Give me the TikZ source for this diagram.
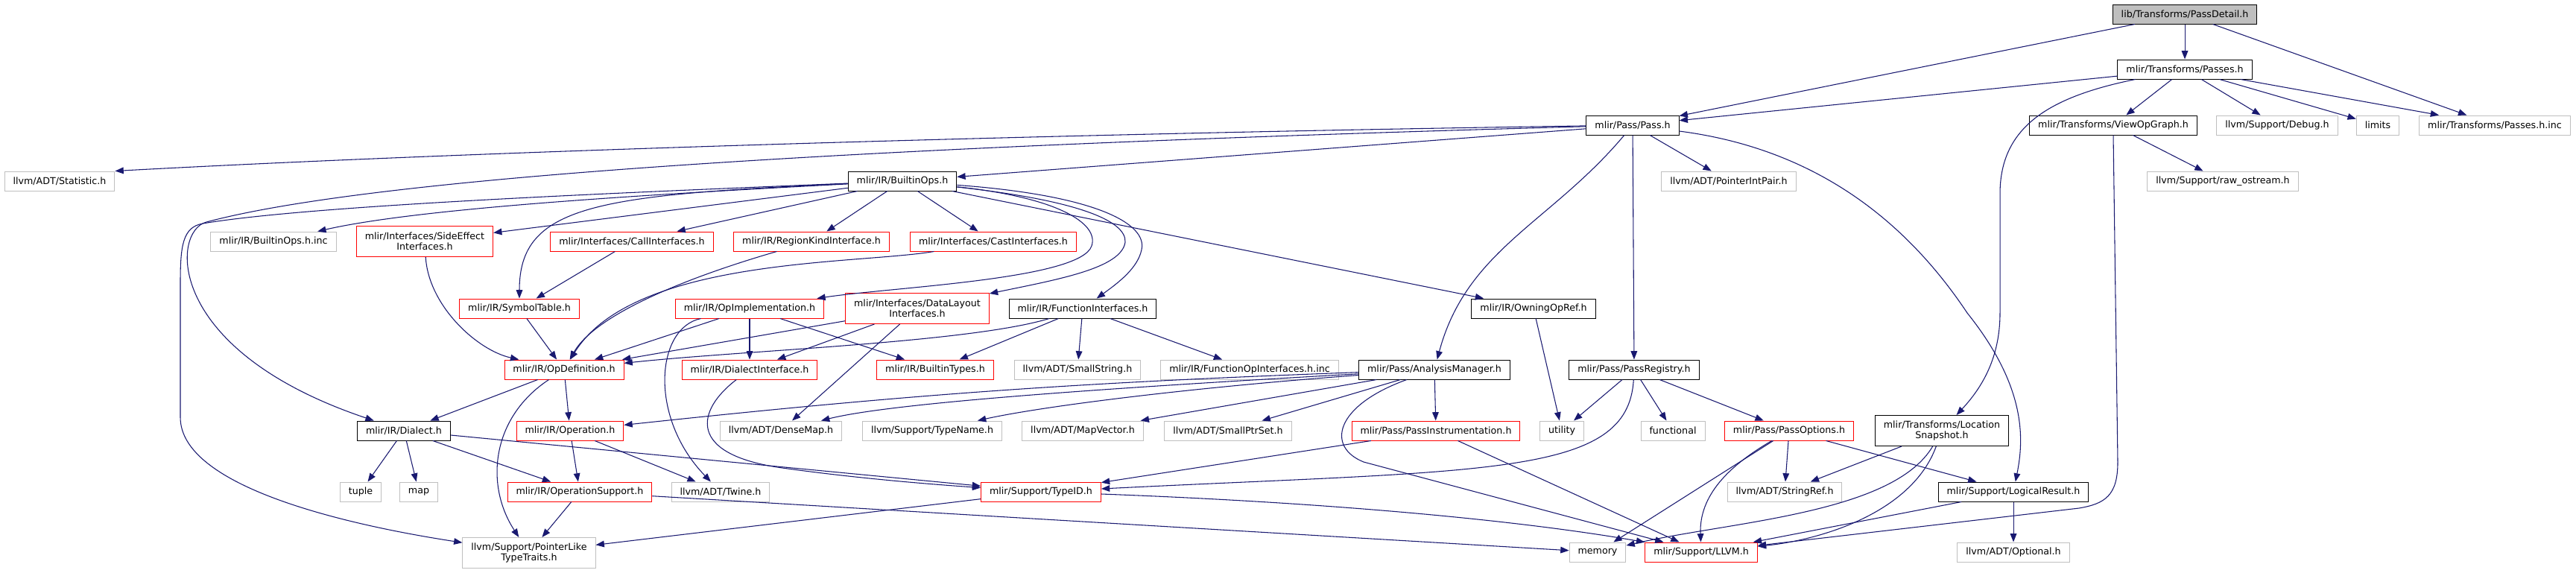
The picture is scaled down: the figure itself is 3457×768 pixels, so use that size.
\documentclass[tikz,border=0pt]{standalone}
\usepackage{fontspec}
\setmainfont{DejaVu Sans}
\usepackage{tikz}
\usetikzlibrary{arrows.meta}
\usepackage{xcolor}
\definecolor{edgeblue}{HTML}{191970}
\definecolor{grey75}{HTML}{BFBFBF}

\begin{document}
\begin{tikzpicture}[x=0.75pt, y=-0.75pt,
  hdr/.style={draw, fill=white, line width=0.75pt, inner xsep=8.6pt, inner ysep=1pt, minimum height=19.5pt, align=center, font=\fontsize{9.5}{10.5}\selectfont},
  doc/.style={hdr, draw=black},
  undoc/.style={hdr, draw=grey75},
  trunc/.style={hdr, draw=red},
  rootfile/.style={hdr, draw=black, fill=grey75},
  tall/.style={minimum height=30.75pt},
  incl/.style={draw=edgeblue, line width=0.8pt, -{Triangle[length=8.5pt, width=6.5pt]}}]

\useasboundingbox (0,0) rectangle (3457,768);

\node[rootfile] (PassDetail) at (2932,19) {lib/Transforms/PassDetail.h};
\node[doc] (Passes) at (2932,93) {mlir/Transforms/Passes.h};

\node[doc] (Pass) at (2191,168) {mlir/Pass/Pass.h};
\node[doc] (ViewOpGraph) at (2836,168) {mlir/Transforms/ViewOpGraph.h};
\node[undoc] (Debug) at (3056,168) {llvm/Support/Debug.h};
\node[undoc] (limits) at (3191,168) {limits};
\node[undoc] (PassesInc) at (3348,168) {mlir/Transforms/Passes.h.inc};

\node[undoc] (Statistic) at (80,243) {llvm/ADT/Statistic.h};
\node[doc] (BuiltinOps) at (1211,243) {mlir/IR/BuiltinOps.h};
\node[undoc] (PointerIntPair) at (2320,243) {llvm/ADT/PointerIntPair.h};
\node[undoc] (rawOstream) at (2983,243) {llvm/Support/raw\_ostream.h};

\node[undoc] (BuiltinOpsInc) at (367,324) {mlir/IR/BuiltinOps.h.inc};
\node[trunc, tall] (SideEffect) at (570,324) {mlir/Interfaces/SideEffect\\Interfaces.h};
\node[trunc] (CallIf) at (848,324) {mlir/Interfaces/CallInterfaces.h};
\node[trunc] (RegionKind) at (1089,324) {mlir/IR/RegionKindInterface.h};
\node[trunc] (CastIf) at (1333,324) {mlir/Interfaces/CastInterfaces.h};

\node[trunc] (SymbolTable) at (697,414) {mlir/IR/SymbolTable.h};
\node[trunc] (OpImpl) at (1006,414) {mlir/IR/OpImplementation.h};
\node[trunc, tall] (DataLayout) at (1231,414) {mlir/Interfaces/DataLayout\\Interfaces.h};
\node[doc] (FuncIf) at (1453,414) {mlir/IR/FunctionInterfaces.h};
\node[doc] (OwningOpRef) at (2058,414) {mlir/IR/OwningOpRef.h};

\node[trunc] (OpDef) at (757,496) {mlir/IR/OpDefinition.h};
\node[trunc] (DialectIf) at (1006,496) {mlir/IR/DialectInterface.h};
\node[trunc] (BuiltinTypes) at (1255,496) {mlir/IR/BuiltinTypes.h};
\node[undoc] (SmallString) at (1446,496) {llvm/ADT/SmallString.h};
\node[undoc] (FuncOpIfInc) at (1677,496) {mlir/IR/FunctionOpInterfaces.h.inc};
\node[doc] (AnalysisMgr) at (1925,496) {mlir/Pass/AnalysisManager.h};
\node[doc] (PassRegistry) at (2193,496) {mlir/Pass/PassRegistry.h};

\node[doc] (Dialect) at (542,578) {mlir/IR/Dialect.h};
\node[trunc] (Operation) at (765,578) {mlir/IR/Operation.h};
\node[undoc] (DenseMap) at (1048,578) {llvm/ADT/DenseMap.h};
\node[undoc] (TypeName) at (1251,578) {llvm/Support/TypeName.h};
\node[undoc] (MapVector) at (1453,578) {llvm/ADT/MapVector.h};
\node[undoc] (SmallPtrSet) at (1648,578) {llvm/ADT/SmallPtrSet.h};
\node[trunc] (PassInstr) at (1927,578) {mlir/Pass/PassInstrumentation.h};
\node[undoc] (utility) at (2096,578) {utility};
\node[undoc] (functional) at (2245,578) {functional};
\node[trunc] (PassOptions) at (2401,578) {mlir/Pass/PassOptions.h};
\node[doc, tall] (LocSnapshot) at (2606,578) {mlir/Transforms/Location\\Snapshot.h};

\node[undoc] (tuple) at (484,660) {tuple};
\node[undoc] (map) at (562,660) {map};
\node[trunc] (OpSupport) at (778,660) {mlir/IR/OperationSupport.h};
\node[undoc] (Twine) at (967,660) {llvm/ADT/Twine.h};
\node[trunc] (TypeID) at (1397,660) {mlir/Support/TypeID.h};
\node[undoc] (StringRef) at (2395,660) {llvm/ADT/StringRef.h};
\node[doc] (LogicalResult) at (2702,660) {mlir/Support/LogicalResult.h};

\node[undoc, tall] (PointerLike) at (710,742) {llvm/Support/PointerLike\\TypeTraits.h};
\node[undoc] (memory) at (2144,741) {memory};
\node[trunc] (LLVM) at (2283,741) {mlir/Support/LLVM.h};
\node[undoc] (Optional) at (2702,741) {llvm/ADT/Optional.h};

\draw[incl] (PassDetail) -- (Pass);
\draw[incl] (PassDetail) -- (Passes);
\draw[incl] (PassDetail) -- (PassesInc);

\draw[incl] (Passes) -- (Pass);
\draw[incl] (Passes) -- (ViewOpGraph);
\draw[incl] (Passes) -- (Debug);
\draw[incl] (Passes) -- (limits);
\draw[incl] (Passes) -- (PassesInc);
\draw[incl] (Passes) .. controls (2750,130) and (2684,170) .. (2684,260) -- (2684,420) .. controls (2684,480) and (2660,520) .. (LocSnapshot);

\draw[incl] (ViewOpGraph) -- (rawOstream);
\draw[incl] (ViewOpGraph.south) -- (2842,620) .. controls (2842,665) and (2825,676) .. (2790,682) -- (LLVM);

\draw[incl] (Pass) .. controls (1500,178) and (700,200) .. (Statistic.north east);
\draw[incl] (Pass) -- (BuiltinOps);
\draw[incl] (Pass) .. controls (1400,190) and (550,225) .. (277,298) .. controls (230,310) and (220,470) .. (Dialect);
\draw[incl] (Pass) -- (PointerIntPair);
\draw[incl] (Pass) to[out=-130, in=75] (AnalysisMgr);
\draw[incl] (Pass) -- (PassRegistry);
\draw[incl] (Pass) .. controls (2440,200) and (2560,300) .. (2640,420) .. controls (2720,520) and (2716,590) .. (LogicalResult);

\draw[incl] (BuiltinOps) .. controls (850,258) and (420,275) .. (272,300) .. controls (245,305) and (242,330) .. (242,380) -- (242,560) .. controls (242,650) and (450,702) .. (PointerLike);
\draw[incl] (BuiltinOps) .. controls (850,262) and (560,280) .. (BuiltinOpsInc);
\draw[incl] (BuiltinOps) -- (SideEffect);
\draw[incl] (BuiltinOps) .. controls (800,262) and (697,275) .. (SymbolTable);
\draw[incl] (BuiltinOps) -- (CallIf);
\draw[incl] (BuiltinOps) -- (RegionKind);
\draw[incl] (BuiltinOps) -- (CastIf);
\draw[incl] (BuiltinOps) .. controls (1420,265) and (1475,300) .. (1465,330) .. controls (1450,375) and (1200,385) .. (OpImpl);
\draw[incl] (BuiltinOps) .. controls (1440,268) and (1512,295) .. (1510,325) .. controls (1505,360) and (1420,375) .. (DataLayout);
\draw[incl] (BuiltinOps) .. controls (1470,262) and (1540,300) .. (1532,335) .. controls (1527,360) and (1500,380) .. (FuncIf);
\draw[incl] (BuiltinOps) -- (OwningOpRef);

\draw[incl] (SideEffect) .. controls (575,410) and (640,470) .. (OpDef);
\draw[incl] (CallIf) -- (SymbolTable);
\draw[incl] (RegionKind) .. controls (930,370) and (800,420) .. (OpDef);
\draw[incl] (CastIf) .. controls (1150,355) and (850,345) .. (OpDef);
\draw[incl] (SymbolTable) -- (OpDef);

\draw[incl] (OpImpl) -- (OpDef);
\draw[incl] (OpImpl) -- (DialectIf);
\draw[incl] (OpImpl) .. controls (880,440) and (870,560) .. (Twine);
\draw[incl] (OpImpl) -- (BuiltinTypes);

\draw[incl] (DataLayout) -- (OpDef);
\draw[incl] (DataLayout) -- (DialectIf);
\draw[incl] (DataLayout) -- (DenseMap);

\draw[incl] (FuncIf) .. controls (1300,460) and (1000,470) .. (OpDef);
\draw[incl] (FuncIf) -- (BuiltinTypes);
\draw[incl] (FuncIf) -- (SmallString);
\draw[incl] (FuncIf) -- (FuncOpIfInc);

\draw[incl] (OwningOpRef) -- (utility);

\draw[incl] (OpDef) -- (Dialect);
\draw[incl] (OpDef) -- (Operation);
\draw[incl] (OpDef) .. controls (660,560) and (650,650) .. (PointerLike);

\draw[incl] (DialectIf) .. controls (935,550) and (920,610) .. (1050,628) .. controls (1150,642) and (1250,650) .. (TypeID);

\draw[incl] (Dialect) -- (tuple);
\draw[incl] (Dialect) -- (map);
\draw[incl] (Dialect) -- (OpSupport);
\draw[incl] (Dialect) -- (TypeID);

\draw[incl] (Operation) -- (OpSupport);
\draw[incl] (Operation) -- (Twine);

\draw[incl] (OpSupport) -- (PointerLike);
\draw[incl] (OpSupport) -- (memory);

\draw[incl] (TypeID) -- (PointerLike);
\draw[incl] (TypeID) .. controls (1800,675) and (2050,700) .. (LLVM);

\draw[incl] (AnalysisMgr) to[bend right=2] (Operation);
\draw[incl] (AnalysisMgr) .. controls (1500,520) and (1200,540) .. (DenseMap);
\draw[incl] (AnalysisMgr) .. controls (1600,520) and (1400,545) .. (TypeName);
\draw[incl] (AnalysisMgr) -- (MapVector);
\draw[incl] (AnalysisMgr) -- (SmallPtrSet);
\draw[incl] (AnalysisMgr) -- (PassInstr);
\draw[incl] (AnalysisMgr) .. controls (1790,545) and (1780,600) .. (1830,620) -- (LLVM);

\draw[incl] (PassInstr) -- (TypeID);
\draw[incl] (PassInstr) -- (LLVM);

\draw[incl] (PassRegistry) -- (utility);
\draw[incl] (PassRegistry) -- (functional);
\draw[incl] (PassRegistry) -- (PassOptions);
\draw[incl] (PassRegistry) .. controls (2185,640) and (2000,630) .. (TypeID);

\draw[incl] (PassOptions) -- (memory);
\draw[incl] (PassOptions) .. controls (2320,625) and (2280,665) .. (LLVM);
\draw[incl] (PassOptions) -- (StringRef);
\draw[incl] (PassOptions) -- (LogicalResult);

\draw[incl] (LocSnapshot) -- (StringRef);
\draw[incl] (LocSnapshot) .. controls (2540,690) and (2320,700) .. (memory);
\draw[incl] (LocSnapshot) .. controls (2565,690) and (2440,725) .. (LLVM);

\draw[incl] (LogicalResult) -- (LLVM);
\draw[incl] (LogicalResult) -- (Optional);

\end{tikzpicture}
\end{document}
